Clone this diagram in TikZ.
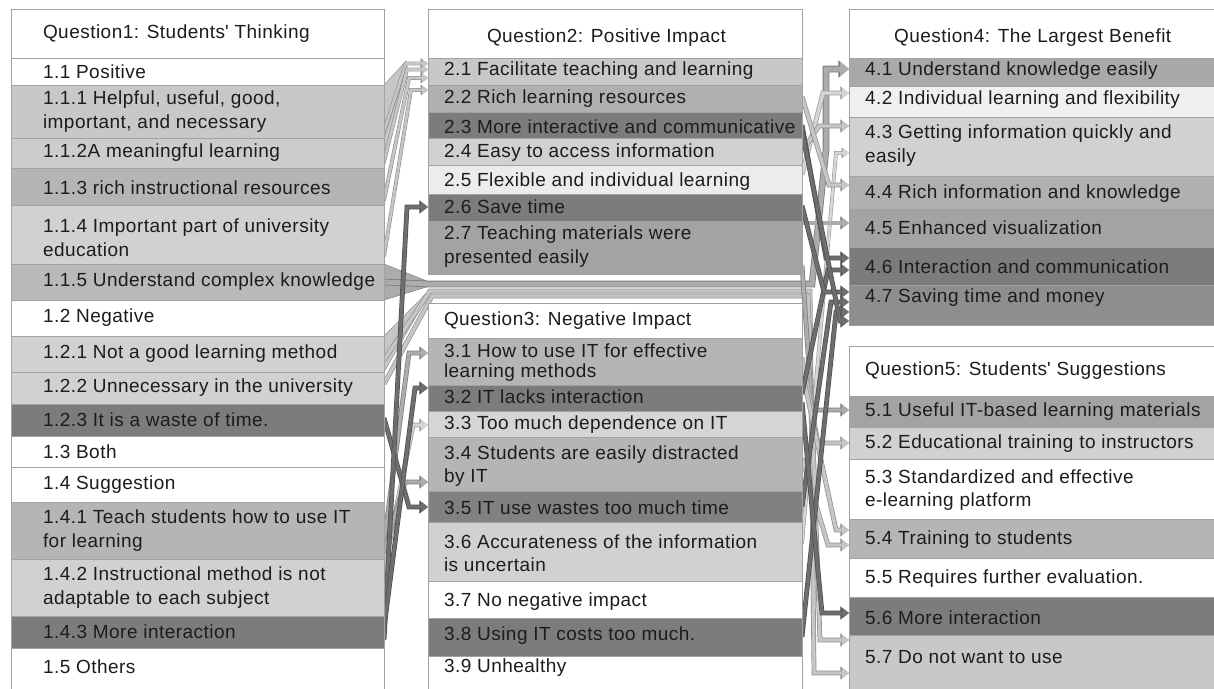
\documentclass[tikz,border=0pt]{standalone}
\usepackage{fontspec}
\setmainfont{Liberation Sans}[LetterSpace=2.5]
\usetikzlibrary{arrows.meta,calc}

\pgfdeclarelayer{paper}
\pgfdeclarelayer{flows}
\pgfsetlayers{paper,flows,main}

% cell fills
\definecolor{g1}{HTML}{ECECEC}
\definecolor{g1b}{HTML}{F0F0F0}
\definecolor{g2}{HTML}{D1D1D1}
\definecolor{g2b}{HTML}{D5D5D5}
\definecolor{g3}{HTML}{C8C8C8}
\definecolor{g3b}{HTML}{CCCCCC}
\definecolor{g4}{HTML}{B5B5B5}
\definecolor{g4b}{HTML}{B9B9B9}
\definecolor{g4c}{HTML}{B0B0B0}
\definecolor{g5}{HTML}{A3A3A3}
\definecolor{g5b}{HTML}{A9A9A9}
\definecolor{g6}{HTML}{8E8E8E}
\definecolor{g7}{HTML}{7C7C7C}
\definecolor{g7b}{HTML}{818181}
\definecolor{gridline}{HTML}{A2A2A2}
\definecolor{txt}{HTML}{1C1C1C}
% connector fills
\definecolor{fx}{HTML}{D6D6D6}
\definecolor{fl}{HTML}{C6C6C6}
\definecolor{fm}{HTML}{ACACAC}
\definecolor{fd}{HTML}{6E6E6E}

\tikzset{
  cellbox/.style={draw=gridline, line width=0.8pt, anchor=north west,
    inner sep=0pt, outer sep=0pt},
  celltext/.style={anchor=west, inner sep=0pt, outer sep=0pt, align=left,
    text=txt, font=\fontsize{19}{23.5}\selectfont},
  flow/.style={draw=#1, line width=3.4pt, line join=miter,
    -{Triangle[length=7pt,width=10pt]},
    preaction={draw=#1!72!black, line width=4.8pt,
      -{Triangle[length=8.6pt,width=12.6pt]}}},
  flowthin/.style={draw=#1, line width=2.6pt, line join=miter,
    -{Triangle[length=6pt,width=8pt]},
    preaction={draw=#1!72!black, line width=3.8pt,
      -{Triangle[length=7.4pt,width=10.4pt]}}},
  flowthick/.style={draw=#1, line width=5pt, line join=miter,
    -{Triangle[length=9pt,width=14pt]},
    preaction={draw=#1!72!black, line width=6.6pt,
      -{Triangle[length=10.6pt,width=16.6pt]}}},
  wedge/.style={fill=#1, draw=#1!75!black, line width=0.5pt},
}

% one table row: name, x, top, width, height, fill, text dx, text dy, text
\newcommand\cell[9]{%
  \node[cellbox, fill=#6, minimum width=#4pt, minimum height=#5pt] (#1) at (#2,#3) {};
  \node[celltext] (#1t) at ($(#1.west)+(#7,#8)$) {#9};}

\begin{document}
\begin{tikzpicture}[x=1pt,y=-1pt]
\begin{pgfonlayer}{paper}
  \fill[white] (0,0) rectangle (1214,688);
\end{pgfonlayer}
\useasboundingbox (0,0) rectangle (1214,688);

% ---- Question 1 ----
\cell{q1h}{11}{9}{373}{49}{white}{32}{0.5}{Question1: Students\textquotesingle\ Thinking}
\cell{r11}{11}{58}{373}{27}{white}{32}{0}{1.1 Positive}
\cell{r111}{11}{85}{373}{53}{g3}{32}{0}{1.1.1 Helpful, useful, good,\\important, and necessary}
\cell{r112}{11}{138}{373}{30}{g3b}{32}{0}{1.1.2A meaningful learning}
\cell{r113}{11}{168}{373}{37}{g4}{32}{1}{1.1.3 rich instructional resources}
\cell{r114}{11}{205}{373}{59}{g2}{32}{3}{1.1.4 Important part of university\\education}
\cell{r115}{11}{264}{373}{36}{g4b}{32}{0}{1.1.5 Understand complex knowledge}
\cell{r12}{11}{300}{373}{36}{white}{32}{0}{1.2 Negative}
\cell{r121}{11}{336}{373}{36}{g2}{32}{0}{1.2.1 Not a good learning method}
\cell{r122}{11}{372}{373}{32}{g2}{32}{0}{1.2.2 Unnecessary in the university}
\cell{r123}{11}{404}{373}{32}{g7}{32}{0}{1.2.3 It is a waste of time.}
\cell{r13}{11}{436}{373}{31}{white}{32}{0}{1.3 Both}
\cell{r14}{11}{467}{373}{35}{white}{32}{0}{1.4 Suggestion}
\cell{r141}{11}{502}{373}{57}{g4}{32}{0}{1.4.1 Teach students how to use IT\\for learning}
\cell{r142}{11}{559}{373}{57}{g2}{32}{0}{1.4.2 Instructional method is not\\adaptable to each subject}
\cell{r143}{11}{616}{373}{32}{g7}{32}{0}{1.4.3 More interaction}
\cell{r15}{11}{648}{373}{44}{white}{32}{-3}{1.5 Others}

% ---- Question 2 ----
\cell{q2h}{428}{9}{374}{49}{white}{59}{4}{Question2: Positive Impact}
\cell{r21}{428}{58}{374}{27}{g3}{16}{-0.5}{2.1 Facilitate teaching and learning}
\cell{r22}{428}{85}{374}{27}{g4c}{16}{0.5}{2.2 Rich learning resources}
\cell{r23}{428}{112}{374}{26}{g7}{16}{1.5}{2.3 More interactive and communicative}
\cell{r24}{428}{138}{374}{27}{g2}{16}{1}{2.4 Easy to access information}
\cell{r25}{428}{165}{374}{29}{g1}{16}{2}{2.5 Flexible and individual learning}
\cell{r26}{428}{194}{374}{27}{g7}{16}{-0.5}{2.6 Save time}
\cell{r27}{428}{221}{374}{53}{g5}{16}{-1}{2.7 Teaching materials were\\presented easily}

% ---- Question 3 ----
\cell{q3h}{428}{303}{374}{35}{white}{16}{0.5}{Question3: Negative Impact}
\cell{r31}{428}{338}{374}{47}{g4}{16}{1.5}{3.1 How to use IT for effective\\[-3.5pt]learning methods}
\cell{r32}{428}{385}{374}{26}{g7}{16}{-1}{3.2 IT lacks interaction}
\cell{r33}{428}{411}{374}{26}{g2b}{16}{1}{3.3 Too much dependence on IT}
\cell{r34}{428}{437}{374}{54}{g4}{16}{2}{3.4 Students are easily distracted\\by IT}
\cell{r35}{428}{491}{374}{31}{g7b}{16}{1.5}{3.5 IT use wastes too much time}
\cell{r36}{428}{522}{374}{59}{g2}{16}{1.5}{3.6 Accurateness of the information\\is uncertain}
\cell{r37}{428}{581}{374}{37}{white}{16}{2}{3.7 No negative impact}
\cell{r38}{428}{618}{374}{38}{g7}{16}{-1}{3.8 Using IT costs too much.}
\cell{r39}{428}{656}{374}{36}{white}{16}{-6}{3.9 Unhealthy}

% ---- Question 4 ----
\cell{q4h}{849}{9}{380}{49}{white}{45}{4}{Question4: The Largest Benefit}
\cell{r41}{849}{58}{380}{28}{g5b}{16}{-1}{4.1 Understand knowledge easily}
\cell{r42}{849}{86}{380}{31}{g1b}{16}{-1.5}{4.2 Individual learning and flexibility}
\cell{r43}{849}{117}{380}{59}{g2}{16}{-1}{4.3 Getting information quickly and\\easily}
\cell{r44}{849}{176}{380}{33}{g4c}{16}{1.5}{4.4 Rich information and knowledge}
\cell{r45}{849}{209}{380}{38}{g5}{16}{0}{4.5 Enhanced visualization}
\cell{r46}{849}{247}{380}{38}{g7}{16}{0.5}{4.6 Interaction and communication}
\cell{r47}{849}{285}{380}{40}{g6}{16}{-7}{4.7 Saving time and money}

% ---- Question 5 ----
\cell{q5h}{849}{346}{380}{50}{white}{16}{0}{Question5: Students\textquotesingle\ Suggestions}
\cell{r51}{849}{396}{380}{31}{g5}{16}{0}{5.1 Useful IT-based learning materials}
\cell{r52}{849}{427}{380}{32}{g2}{16}{1}{5.2 Educational training to instructors}
\cell{r53}{849}{459}{380}{60}{white}{16}{1}{5.3 Standardized and effective\\e-learning platform}
\cell{r54}{849}{519}{380}{39}{g4}{16}{1}{5.4 Training to students}
\cell{r55}{849}{558}{380}{39}{white}{16}{1.5}{5.5 Requires further evaluation.}
\cell{r56}{849}{597}{380}{38}{g7}{16}{2}{5.6 More interaction}
\cell{r57}{849}{635}{380}{57}{g3}{16}{-6.5}{5.7 Do not want to use}

% ---- connectors, kept under the cells ----
\begin{pgfonlayer}{flows}
  % Q1 positive answers fanning into 2.1 / 2.2
  \path[wedge=fl] (r111.north east) -- (406,61) -- (406,66) -- (r111.south east) -- cycle;
  \path[wedge=fl] (r112.north east) -- (407,67) -- (407,71) -- (r112.south east) -- cycle;
  \draw[flowthin=fl] ($(r111.east)+(0,20)$) -- (406,63.5) -- ($(r21.west)+(0,-8)$);
  \draw[flowthin=fl] ($(r112.east)+(0,8)$) -- (407,69.5) -- ($(r21.west)+(0,-2)$);
  \draw[flowthin=fl] ($(r113.east)+(0,14)$) -- (409,78) -- ($(r21.west)+(0,6.5)$);
  \draw[flowthin=fl] ($(r114.east)+(0,22)$) -- (411,90) -- ($(r22.west)+(0,-8.5)$);

  % 1.1.5 through the gap between Q2 and Q3, up to 4.1
  \path[wedge=fm] (r115.north east) -- (428,281.5) -- (428,286.5) -- (r115.south east) -- cycle;
  \draw[flowthick=fm] (r115.east) -- (428,284) -- (812,284) -- (826,150) -- (826,69)
    -- ($(r41.west)+(0,-3)$);

  % 1.2.1 / 1.2.2 through the gap, down to 5.7
  \path[wedge=fl] (r121.north east) -- (430,289.5) -- (430,292.5) -- (r121.south east) -- cycle;
  \draw[flow=fl] ($(r121.east)+(0,6)$) -- (430,291) -- (810,291) -- (814,673)
    -- ($(r57.west)+(0,9.5)$);
  \draw[flow=fl] ($(r122.east)+(0,-4)$) -- (432,296) -- (808,296) -- (820,640)
    -- ($(r57.west)+(0,-23.5)$);

  % Q1 suggestions into Q3
  \draw[flow=fm] ($(r141.east)+(0,12)$) -- (409,353) -- ($(r31.west)+(0,-8.5)$);
  \draw[flow=fx] ($(r142.east)+(0,-18)$) -- (413,425) -- ($(r33.west)+(0,1)$);
  \draw[flow=fm] ($(r141.east)+(0,22)$) -- (405,482) -- ($(r34.west)+(0,18)$);
  \draw[flow=fd] ($(r123.east)+(0,-2)$) -- (409,507) -- ($(r35.west)+(0,0.5)$);
  \draw[flow=fd] ($(r143.east)+(0,8)$) -- (407,207) -- ($(r26.west)+(0,-0.5)$);
  \draw[flow=fd] ($(r143.east)+(0,-4)$) -- (415,388) -- ($(r32.west)+(0,-10)$);

  % Q2 / Q3 into Q4
  \draw[flow=fx] ($(r25.east)+(0,-5)$) -- (823,93) -- ($(r42.west)+(0,-8.5)$);
  \draw[flow=fl] (r24.east) -- (819,126) -- ($(r43.west)+(0,-20.5)$);
  \draw[flowthin=fx] ($(r36.east)+(0,-8)$) -- (836,153) -- ($(r43.west)+(0,6.5)$);
  \draw[flow=fl] ($(r22.east)+(0,-2)$) -- (829,185) -- ($(r44.west)+(0,-7.5)$);
  \draw[flow=fm] ($(r27.east)+(0,-24.5)$) -- ($(r45.west)+(0,-5)$);

  % Q2 / Q3 into Q5
  \draw[flow=fm] ($(r27.east)+(0,18)$) -- (812,410) -- ($(r51.west)+(0,-1.5)$);
  \draw[flow=fl] ($(r31.east)+(0,-4)$) -- (818,443) -- ($(r52.west)+(0,0)$);
  \draw[flow=fl] ($(r31.east)+(0,10)$) -- (836,530) -- ($(r54.west)+(0,-8.5)$);
  \draw[flow=fl] ($(r34.east)+(0,-6)$) -- (828,545) -- ($(r54.west)+(0,6.5)$);

  % dark links
  \draw[flow=fd] (r23.east) -- (826,258) -- ($(r46.west)+(0,-8)$);
  \draw[flow=fd] ($(r32.east)+(0,-4)$) -- (828,270) -- ($(r46.west)+(0,4)$);
  \draw[flow=fd] ($(r26.east)+(0,-2)$) -- (824,292) -- ($(r47.west)+(0,-13)$);
  \draw[flow=fd] (r35.east) -- (831,302) -- ($(r47.west)+(0,-3)$);
  \draw[flow=fd] (r38.east) -- (836,312) -- ($(r47.west)+(0,7)$);
  \draw[flow=fd] ($(r23.east)+(0,6)$) -- (840,321) -- ($(r47.west)+(0,16)$);
  \draw[flow=fd] ($(r32.east)+(0,4)$) -- (822,613) -- ($(r56.west)+(0,-3)$);
\end{pgfonlayer}
\end{tikzpicture}
\end{document}
